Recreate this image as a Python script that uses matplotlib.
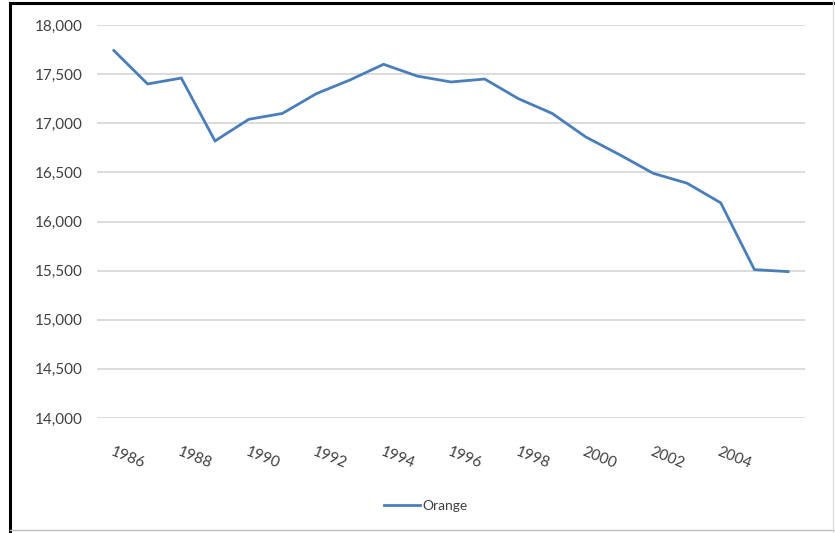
import matplotlib.pyplot as plt
from matplotlib.lines import Line2D

# data
years = list(range(1986, 2007))
orange = [17740, 17400, 17460, 16820, 17040, 17100, 17300, 17440, 17600, 17480,
          17420, 17450, 17250, 17100, 16860, 16680, 16490, 16390, 16190, 15510, 15490]
tick_years = list(range(1986, 2005, 2))
yticks = list(range(14000, 18001, 500))

plt.rcParams['font.family'] = ['Lato', 'DejaVu Sans']

fig = plt.figure(figsize=(8.35, 5.33), dpi=100)
ax = fig.add_axes([97/835, 1 - 418/533, 708/835, 393/533])

x = list(range(len(years)))
ax.plot(x, orange, color='#4A7EBB', lw=2.0, solid_joinstyle='miter')

ax.set_xlim(-0.5, len(years) - 0.5)
ax.set_ylim(14000, 18000)
ax.set_yticks(yticks)
ax.set_yticklabels([f'{v:,}' for v in yticks], fontsize=11, color='#404040')
ax.grid(axis='y', color='#D9D9D9', lw=1.3)
ax.set_axisbelow(True)
ax.tick_params(axis='y', length=0, pad=10)

ax.set_xticks([years.index(y) for y in tick_years])
ax.set_xticklabels([str(y) for y in tick_years], fontsize=11, color='#404040',
                   rotation=-22, ha='left', va='top', rotation_mode='anchor')
ax.tick_params(axis='x', length=0, pad=19)

for s in ax.spines.values():
    s.set_visible(False)

fig.legend(handles=[Line2D([0], [0], color='#4A7EBB', lw=2.0)], labels=['Orange'],
           loc='center', bbox_to_anchor=(0.51, 1 - 506/533), frameon=False,
           fontsize=10, handlelength=2.6, handletextpad=0.2, labelcolor='#404040')

# outer frame of the screenshot
fig.add_artist(Line2D([10/835, 10/835], [0, 1 - 3/533], color='black', lw=2.2,
                      transform=fig.transFigure))
fig.add_artist(Line2D([10/835, 1], [1 - 3/533, 1 - 3/533], color='black', lw=2.2,
                      transform=fig.transFigure))
fig.add_artist(Line2D([10/835, 1], [1 - 530/533, 1 - 530/533], color='#BFBFBF', lw=1,
                      transform=fig.transFigure))
fig.add_artist(Line2D([833/835, 833/835], [0, 1], color='#E0E0E0', lw=1,
                      transform=fig.transFigure))

fig.savefig('out.png', dpi=100)
